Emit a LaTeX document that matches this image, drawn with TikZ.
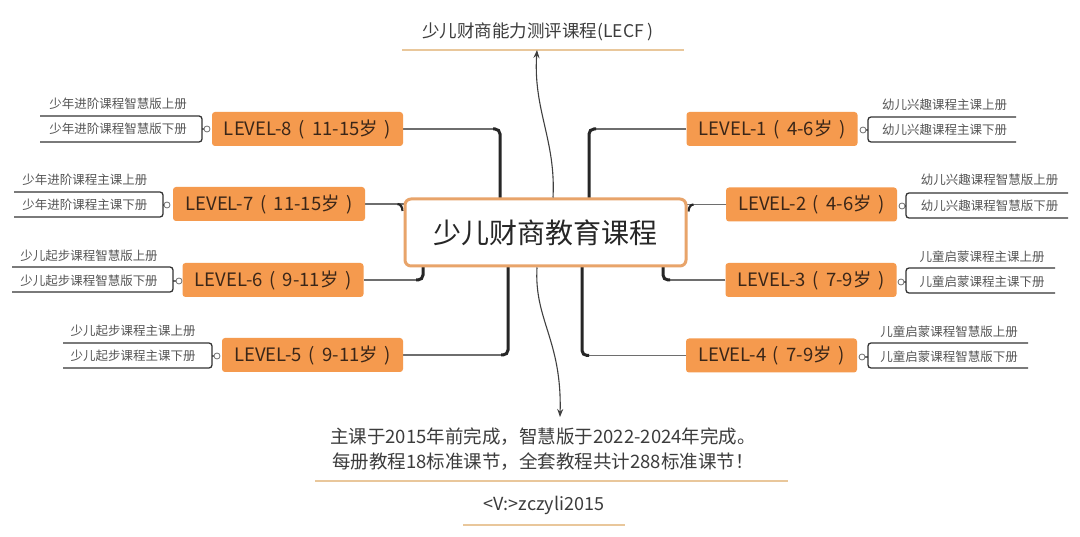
\documentclass[tikz,border=0pt]{standalone}
\usepackage{fontspec}
\setmainfont{Noto Sans CJK SC}
\usetikzlibrary{arrows.meta}
\definecolor{lvfill}{HTML}{F59A4E}
\definecolor{lvtext}{HTML}{3A2618}
\definecolor{cborder}{HTML}{E8A46A}
\definecolor{uline}{HTML}{E9C79B}
\definecolor{subtext}{HTML}{555555}
\definecolor{thinc}{HTML}{6E6E6E}
\definecolor{thickc}{HTML}{262626}
\definecolor{brkc}{HTML}{333333}
\definecolor{maintext}{HTML}{3C3C3C}
\pgfdeclarelayer{back}
\pgfdeclarelayer{bg}
\pgfsetlayers{back,bg,main}
\newcommand{\lv}[2]{LEVEL-#1\hspace{6.5pt}(\hspace{7.5pt}#2岁\hspace{6.5pt})}
\tikzset{
  lvl/.style={fill=lvfill, rounded corners=3pt, minimum height=34pt, inner sep=0pt,
    font=\fontsize{18.5}{20}\selectfont, text=lvtext},
  centerbox/.style={draw=cborder, line width=3pt, fill=white, rounded corners=6pt,
    minimum width=281pt, minimum height=67pt, inner sep=0pt,
    font=\fontsize{28}{30}\selectfont, text=black!85},
  subt/.style={inner sep=0pt, font=\fontsize{12.5}{14}\selectfont, text=subtext},
  dot/.style={circle, draw=thinc, fill=white, inner sep=0pt, minimum size=6pt, line width=0.8pt},
  thinln/.style={draw=thinc, line width=1.2pt},
  thickln/.style={draw=thickc, line width=3pt, rounded corners=5pt},
  hookln/.style={draw=thickc, line width=2.2pt},
  brk/.style={draw=brkc, line width=1.3pt, rounded corners=3pt},
  curveln/.style={draw=black!75, line width=1.1pt, -{Stealth[length=8pt,width=6pt]}},
  uln/.style={draw=uline, line width=2pt},
  bigt/.style={inner sep=0pt, text=maintext}
}
\begin{document}
\begin{tikzpicture}[x=1pt,y=-1pt]
\begin{pgfonlayer}{back}
\fill[white] (0,0) rectangle (1080,537);
\end{pgfonlayer}
\useasboundingbox (0,0) rectangle (1080,537);

% center
\node[centerbox] (C) at (545.5,232.5) {少儿财商教育课程};

% levels
\node[lvl,minimum width=191pt] (L8) at (307.5,129) {\lv{8}{11-15}};
\node[lvl,minimum width=192pt] (L7) at (269,204) {\lv{7}{11-15}};
\node[lvl,minimum width=181pt] (L6) at (273,280) {\lv{6}{9-11}};
\node[lvl,minimum width=181pt] (L5) at (312.5,355) {\lv{5}{9-11}};
\node[lvl,minimum width=171pt] (L1) at (772,129) {\lv{1}{4-6}};
\node[lvl,minimum width=171pt] (L2) at (811.5,204.5) {\lv{2}{4-6}};
\node[lvl,minimum width=171pt] (L3) at (811,280) {\lv{3}{7-9}};
\node[lvl,minimum width=171pt] (L4) at (771.5,355.5) {\lv{4}{7-9}};

% sub items
\node[subt] (s8a) at (118,104) {少年进阶课程智慧版上册};
\node[subt] (s8b) at (118,129) {少年进阶课程智慧版下册};
\node[subt] (s7a) at (85,180) {少年进阶课程主课上册};
\node[subt] (s7b) at (85,205) {少年进阶课程主课下册};
\node[subt] (s6a) at (89,256) {少儿起步课程智慧版上册};
\node[subt] (s6b) at (89,281) {少儿起步课程智慧版下册};
\node[subt] (s5a) at (133,331) {少儿起步课程主课上册};
\node[subt] (s5b) at (133,356) {少儿起步课程主课下册};
\node[subt] (s1a) at (944.5,105) {幼儿兴趣课程主课上册};
\node[subt] (s1b) at (944.5,130) {幼儿兴趣课程主课下册};
\node[subt] (s2a) at (989.5,180) {幼儿兴趣课程智慧版上册};
\node[subt] (s2b) at (989.5,206) {幼儿兴趣课程智慧版下册};
\node[subt] (s3a) at (982,257) {儿童启蒙课程主课上册};
\node[subt] (s3b) at (982,282) {儿童启蒙课程主课下册};
\node[subt] (s4a) at (949,332) {儿童启蒙课程智慧版上册};
\node[subt] (s4b) at (949,357) {儿童启蒙课程智慧版下册};

% dots
\node[dot] (c8) at (207,129) {};
\node[dot] (c7) at (167,205) {};
\node[dot] (c6) at (179,281) {};
\node[dot] (c5) at (217,356) {};
\node[dot] (c1) at (863,130) {};
\node[dot] (c2) at (902,206) {};
\node[dot] (c3) at (901,282) {};
\node[dot] (c4) at (862,357) {};

% brackets
\draw[brk] (40,116) -- (202,116) -- (202,142) -- (40,142);
\draw[brk] (14,192) -- (163,192) -- (163,217) -- (14,217);
\draw[brk] (12,267) -- (173,267) -- (173,292) -- (12,292);
\draw[brk] (63,343) -- (212,343) -- (212,368) -- (63,368);
\draw[brk] (1016,117) -- (868,117) -- (868,142) -- (1016,142);
\draw[brk] (1068,193) -- (906,193) -- (906,218) -- (1068,218);
\draw[brk] (1055,268) -- (906,268) -- (906,293) -- (1055,293);
\draw[brk] (1028,343) -- (868,343) -- (868,368) -- (1028,368);

% title and notes
\node[bigt, font=\fontsize{17.5}{20}\selectfont] (T) at (538,32) {少儿财商能力测评课程(LECF )};
\coordinate (tip1) at (537,50);
\node[bigt, align=center, font=\fontsize{18.5}{25}\selectfont] (B) at (543,449.5) {主课于2015年前完成，智慧版于2022-2024年完成。\\每册教程18标准课节，全套教程共计288标准课节！};
\coordinate (tip2) at (560,417);
\node[bigt, font=\fontsize{18}{20}\selectfont] (W) at (544,505) {<V:>zczyli2015};

% connectors (behind nodes)
\begin{pgfonlayer}{bg}
\draw[uln] (402,50) -- (684,50);
\draw[uln] (315,481) -- (788,481);
\draw[uln] (463,525) -- (625,525);

\coordinate (k8) at (500,129);
\coordinate (k1) at (589,129);
\coordinate (k6) at (423,280);
\coordinate (k3) at (663,280);
\coordinate (k5) at (508,355);
\coordinate (k4) at (582,355.5);

\draw[thinln] (L8.east) -- ([xshift=-6pt]k8);
\draw[thickln] ([xshift=-7pt]k8) -- (k8) -- (k8 |- C.center);
\draw[thinln] (L1.west) -- ([xshift=6pt]k1);
\draw[thickln] ([xshift=7pt]k1) -- (k1) -- (k1 |- C.center);

\draw[thinln] (L7.east) -- (L7.east -| C.center);
\draw[hookln] ([xshift=-6pt]L7.east -| C.west) to[out=0,in=90] ([xshift=-1pt,yshift=-7pt]L7.east -| C.west);
\draw[thinln] (L2.west) -- (L2.west -| C.center);
\draw[hookln] ([xshift=6pt]L2.west -| C.east) to[out=180,in=90] ([xshift=1pt,yshift=-7pt]L2.west -| C.east);

\draw[thinln] (L6.east) -- ([xshift=-6pt]k6);
\draw[thickln] ([xshift=-7pt]k6) -- (k6) -- (k6 |- C.center);
\draw[thinln] (L3.west) -- ([xshift=6pt]k3);
\draw[thickln] ([xshift=7pt]k3) -- (k3) -- (k3 |- C.center);

\draw[thinln] (L5.east) -- ([xshift=-6pt]k5);
\draw[thickln] ([xshift=-7pt]k5) -- (k5) -- (k5 |- C.center);
\draw[thinln] (L4.west) -- ([xshift=6pt]k4);
\draw[thickln] ([xshift=7pt]k4) -- (k4) -- (k4 |- C.center);

\draw[thinln] (c8) -- (202,129);
\draw[thinln] (c7) -- (163,205);
\draw[thinln] (c6) -- (173,281);
\draw[thinln] (c5) -- (212,356);
\draw[thinln] (c1) -- (868,130);
\draw[thinln] (c2) -- (906,206);
\draw[thinln] (c3) -- (906,282);
\draw[thinln] (c4) -- (868,357);
\end{pgfonlayer}

\draw[curveln] ([xshift=7.5pt]C.north) .. controls (556,140) and (533,110) .. (tip1);
\draw[curveln] ([xshift=-8.5pt]C.south) .. controls (534,320) and (562,340) .. (tip2);
\end{tikzpicture}
\end{document}
